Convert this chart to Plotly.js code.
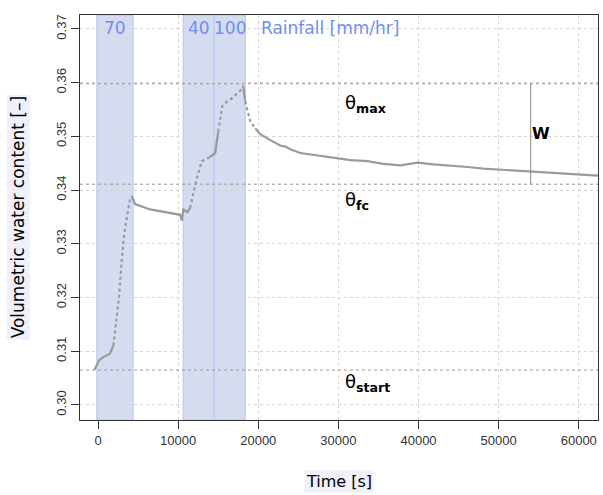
<!DOCTYPE html>
<html><head><meta charset="utf-8">
<script src="https://cdn.plot.ly/plotly-3.0.1.min.js"></script>
<style>body{margin:0;background:#fff}#chart{width:603px;height:495px}</style>
</head><body><div id="chart"></div>
<script>
// Measured series (time [s], volumetric water content [-])
var timeS = [-460,125,660,1500,1920,2125,2340,2625,2830,2960,3170,3460,3790,4000,4210,
  4625,6500,8160,10250,10460,10660,11160,11500,11920,12340,12960,13800,14625,
  15000,15500,16090,16710,17340,17960,18125,18375,19000,19625,20250,21500,22750,23375,24000,
  25250,29375,31500,33625,35625,37750,39875,41875,44000,46125,48125,50250,52375,54375,56500,58625,60625,62375];
var vwc = [0.3065,0.3083,0.3089,0.3096,0.3111,0.3139,0.3170,0.3201,0.3244,0.3275,0.3306,0.3337,0.3361,0.3383,0.3389,
  0.3374,0.3364,0.3359,0.3354,0.3343,0.3364,0.3359,0.3367,0.3398,0.3423,0.3454,0.3460,0.3469,
  0.3509,0.3556,0.3565,0.3571,0.3580,0.3588,0.3594,0.3565,0.3528,0.3515,0.3504,0.3493,0.3483,0.3481,0.3476,
  0.3469,0.3460,0.3456,0.3454,0.3449,0.3446,0.3451,0.3448,0.3446,0.3443,0.3440,0.3438,0.3436,0.3435,0.3433,0.3431,0.3429,0.3427];

// Rainfall events
var rainStart = [-150, 10625, 14500];
var rainEnd = [4375, 14500, 18375];
var rainRate = ["70", "40", "100"];

// Reference levels
var thetaNames = ["θ<sub><b>max</b></sub>", "θ<sub><b>fc</b></sub>", "θ<sub><b>start</b></sub>"];
var thetaValues = [0.3598, 0.3411, 0.3065];
var thetaLabelY = [0.3561, 0.3380, 0.3041];
var wTime = 54000;

var xTicks = [0,10000,20000,30000,40000,50000,60000];
var yTicks = [0.30,0.31,0.32,0.33,0.34,0.35,0.36,0.37];

// split into dense (solid) and sparse (dotted) segments by index
function seg(a, b){ return {x: timeS.slice(a, b+1), y: vwc.slice(a, b+1)}; }
var solidSegs = [[0,4],[14,22],[26,28],[34,35],[37,timeS.length-1]];
var dotSegs = [[4,14],[22,26],[28,34],[35,37]];
var traces = [];
solidSegs.forEach(function(s){ var d=seg(s[0],s[1]);
  traces.push({x:d.x,y:d.y,type:'scatter',mode:'lines',line:{color:'#9a9a9a',width:2.2},hoverinfo:'skip',showlegend:false}); });
dotSegs.forEach(function(s){ var d=seg(s[0],s[1]);
  traces.push({x:d.x,y:d.y,type:'scatter',mode:'lines',line:{color:'#9a9a9a',width:2.2,dash:'dot'},hoverinfo:'skip',showlegend:false}); });

var shapes = [];
for (var i=0;i<rainStart.length;i++){
  shapes.push({type:'rect',xref:'x',yref:'paper',x0:rainStart[i],x1:rainEnd[i],y0:0,y1:1,
    fillcolor:'#d6dcf0',line:{color:'#b8c4f2',width:1},layer:'below'});
}
for (var j=0;j<thetaValues.length;j++){
  shapes.push({type:'line',xref:'paper',yref:'y',x0:0,x1:1,y0:thetaValues[j],y1:thetaValues[j],
    line:{color:'#999',width:1,dash:'dot'},layer:'above'});
}
shapes.push({type:'line',xref:'x',yref:'y',x0:wTime,x1:wTime,y0:thetaValues[1],y1:thetaValues[0],
  line:{color:'#888',width:1}});

var annotations = [];
for (var k=0;k<rainRate.length;k++){
  annotations.push({x:(rainStart[k]+rainEnd[k])/2,y:1,xref:'x',yref:'paper',yanchor:'top',yshift:-1,
    text:rainRate[k],showarrow:false,font:{family:'DejaVu Sans',size:17,color:'#6f8ff0'}});
}
annotations.push({x:20100,y:1,xref:'x',yref:'paper',xanchor:'left',yanchor:'top',yshift:-1,
  text:'Rainfall [mm/hr]',showarrow:false,font:{family:'DejaVu Sans',size:17,color:'#6f8ff0'}});
for (var m=0;m<thetaNames.length;m++){
  annotations.push({x:30600,y:thetaLabelY[m],xref:'x',yref:'y',xanchor:'left',
    text:thetaNames[m],showarrow:false,font:{family:'DejaVu Sans',size:18,color:'#000'}});
}
annotations.push({x:55300,y:0.3506,xref:'x',yref:'y',text:'<b>W</b>',showarrow:false,
  font:{family:'DejaVu Sans',size:16,color:'#000'}});
annotations.push({x:0.5,y:-0.152,xref:'paper',yref:'paper',yanchor:'middle',text:'Time [s]',showarrow:false,
  bgcolor:'#f0f0fb',font:{family:'DejaVu Sans',size:16,color:'#000'}});
annotations.push({x:-0.12,y:0.5,xref:'paper',yref:'paper',xanchor:'center',text:'Volumetric water content [–]',
  showarrow:false,textangle:-90,bgcolor:'#f0f0fb',font:{family:'DejaVu Sans',size:17,color:'#000'}});

var layout = {
  width:603,height:495,margin:{l:80,r:5,t:15,b:75},
  paper_bgcolor:'#fff',plot_bgcolor:'#fff',
  font:{family:'Liberation Sans, Arial',size:13,color:'#333'},
  xaxis:{range:[-2250,62400],tickvals:xTicks,ticktext:xTicks.map(String),ticks:'outside',ticklen:8,tickcolor:'#333',
    showline:true,mirror:true,linecolor:'#333',linewidth:1,showgrid:true,gridcolor:'#d4d4d4',griddash:'3px,3px',zeroline:false},
  yaxis:{range:[0.2972,0.3726],tickvals:yTicks,ticktext:yTicks.map(function(v){return v.toFixed(2);}),tickangle:-90,
    ticks:'outside',ticklen:8,tickcolor:'#333',showline:true,mirror:true,linecolor:'#333',linewidth:1,
    showgrid:true,gridcolor:'#d4d4d4',griddash:'3px,3px',zeroline:false},
  shapes:shapes,annotations:annotations,showlegend:false
};
Plotly.newPlot('chart',traces,layout,{staticPlot:true});
</script></body></html>
